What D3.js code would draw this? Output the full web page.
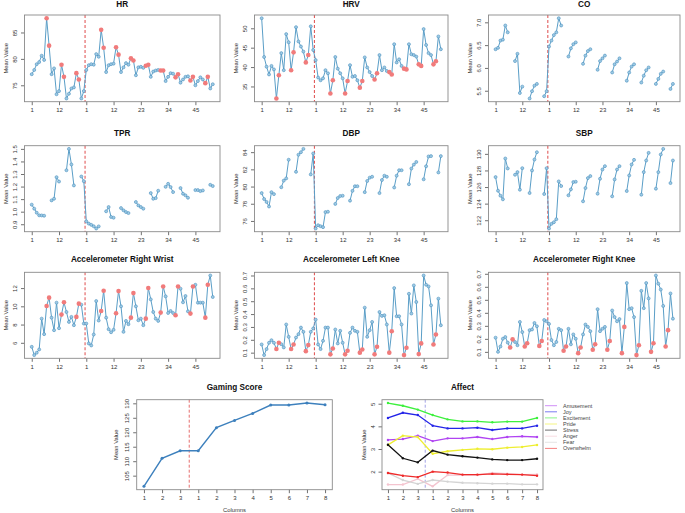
<!DOCTYPE html>
<html><head><meta charset="utf-8">
<script src="https://cdn.jsdelivr.net/npm/d3@7"></script>
<style>body{margin:0;background:#fff}svg{display:block;font-family:"Liberation Sans",Arial,Helvetica,sans-serif}</style>
</head><body><svg id="c" width="685" height="513"></svg>
<script>
// ---------- data ----------
const baseTickLabels = ["1", "12"];
const intTickLabels = ["1", "12", "23", "34", "45"];
const baseHighlight = [7, 8, 13, 14, 19, 20];
const intHighlight = [7, 8, 13, 14, 19, 20, 25, 26, 31, 32, 37, 38, 43, 44, 49, 50];

const hrBase = [77.1, 77.9, 79.0, 79.4, 80.6, 79.8, 87.7, 82.5, 77.1, 78.2, 73.3, 73.9, 78.9, 76.6, 72.5, 73.4, 74.4, 74.6, 77.3, 76.1, 72.5, 73.9];
const hrInt = [77.9, 78.8, 79.0, 78.9, 80.9, 80.4, 85.5, 82.1, 77.5, 78.8, 79.0, 79.1, 82.2, 80.8, 77.5, 78.4, 79.2, 78.9, 80.1, 79.7, 76.9, 78.4, 78.5, 78.3, 78.7, 78.9, 76.6, 77.6, 77.8, 77.9, 77.8, 77.8, 75.8, 76.6, 77.3, 77.2, 76.5, 77.1, 75.5, 76.1, 76.6, 76.7, 75.9, 76.6, 75.0, 75.8, 76.5, 76.1, 75.4, 76.6, 74.4, 75.2];

const hrvBase = [52.6, 42.6, 40.1, 38.1, 40.3, 39.4, 31.9, 37.9, 43.6, 39.2, 48.5, 46.4, 39.2, 43.8, 50.3, 46.6, 45.3, 44.0, 41.2, 43.1, 50.5, 44.4];
const hrvInt = [41.8, 37.3, 36.6, 37.1, 39.2, 38.4, 33.2, 36.6, 42.6, 39.6, 38.4, 37.1, 33.2, 36.4, 40.5, 37.5, 37.7, 36.6, 34.7, 36.4, 42.5, 39.9, 38.7, 37.7, 36.8, 38.4, 43.1, 39.2, 39.9, 39.0, 38.7, 38.1, 45.9, 41.2, 42.0, 40.3, 39.6, 39.4, 45.9, 43.3, 43.1, 42.7, 40.7, 40.3, 49.8, 45.7, 43.6, 43.1, 40.7, 41.5, 47.9, 44.6];

const coBase = [6.41, 6.44, 6.60, 6.62, 6.93, 6.78, null, null, 6.15, 6.31, 5.45, 5.59, null, null, 5.33, 5.49, 5.61, 5.65, null, null, 5.38, 5.49];
const coInt = [6.47, 6.60, 6.72, 6.78, 7.09, 6.93, null, null, 6.25, 6.43, 6.52, 6.56, null, null, 6.09, 6.27, 6.37, 6.41, null, null, 5.96, 6.15, 6.21, 6.27, null, null, 5.90, 6.08, 6.14, 6.21, null, null, 5.72, 5.90, 6.03, 6.08, null, null, 5.68, 5.83, 5.95, 6.01, null, null, 5.65, 5.76, 5.87, 5.92, null, null, 5.54, 5.65];

const tprBase = [1.056, 1.024, 0.992, 0.971, 0.970, 0.968, null, null, 1.090, 1.103, 1.275, 1.240, null, null, 1.330, 1.500, 1.376, 1.209, null, null, 1.280, 1.243];
const tprInt = [0.923, 0.905, 0.895, 0.884, 0.866, 0.883, null, null, 1.003, 1.037, 0.958, 0.952, null, null, 1.029, 1.011, 0.997, 0.989, null, null, 1.077, 1.050, 1.037, 1.024, null, null, 1.148, 1.103, 1.108, 1.167, null, null, 1.198, 1.222, 1.196, 1.156, null, null, 1.188, 1.143, 1.130, 1.111, null, null, 1.172, 1.172, 1.164, 1.169, null, null, 1.214, 1.204];

const dbpBase = [79.24, 78.55, 78.21, 77.68, 79.35, 79.12, null, null, 79.92, 80.69, 80.95, 83.12, null, null, 81.71, 83.70, 84.00, 84.38, null, null, 81.41, 83.85];
const dbpInt = [75.12, 75.50, 75.39, 75.28, 77.03, 77.07, null, null, 77.98, 78.67, 78.90, 78.93, null, null, 78.36, 79.50, 80.04, 80.04, null, null, 79.35, 80.65, 81.03, 81.14, null, null, 79.24, 80.76, 81.26, 81.14, null, null, 79.89, 81.26, 81.90, 81.90, null, null, 80.27, 82.10, 82.55, 82.86, null, null, 80.84, 82.36, 83.50, 83.54, null, null, 81.64, 83.54];

const sbpBase = [127.2, 125.56, 124.96, 124.52, 129.44, 128.24, null, null, 127.48, 127.8, 125.68, 128.28, null, null, 125.28, 128.0, 129.32, 130.2, null, null, 125.16, 128.28];
const sbpInt = [121.0, 121.56, 121.76, 122.12, 126.68, 126.12, null, null, 125.0, 125.72, 126.6, 126.64, null, null, 124.28, 125.88, 127.08, 127.32, null, null, 125.2, 127.0, 128.12, 128.52, null, null, 124.88, 126.92, 128.12, 128.52, null, null, 125.52, 127.4, 128.72, 129.28, null, null, 125.08, 127.8, 129.2, 130.12, null, null, 125.8, 127.8, 129.92, 130.6, null, null, 126.48, 129.2];

const rwBase = [5.56, 4.65, 4.91, 5.27, 8.65, 6.95, 10.04, 10.95, 8.76, 7.38, 10.4, 7.6, 9.09, 10.44, 9.38, 8.29, 8.84, 7.93, 8.84, 10.29, 10.18, 8.11];
const rwInt = [8.11, 5.93, 5.71, 6.91, 10.58, 8.44, 9.49, 11.71, 8.76, 7.49, 7.16, 7.42, 9.24, 11.67, 10.0, 7.2, 8.4, 8.04, 8.76, 11.45, 10.0, 8.47, 8.65, 7.93, 8.65, 12.0, 10.76, 9.38, 8.65, 8.4, 9.31, 12.18, 11.09, 9.27, 9.49, 9.27, 9.02, 12.18, 11.93, 10.44, 11.13, 9.45, 9.2, 12.18, 12.36, 10.4, 10.4, 10.4, 8.76, 12.36, 13.38, 11.02];

const lkBase = [0.164, 0.081, 0.128, 0.177, 0.197, 0.177, 0.128, 0.177, 0.166, 0.141, 0.319, 0.223, 0.128, 0.164, 0.218, 0.244, 0.295, 0.262, 0.112, 0.159, 0.262, 0.288];
const lkInt = [0.357, 0.164, 0.128, 0.192, 0.295, 0.295, 0.087, 0.133, 0.28, 0.172, 0.27, 0.177, 0.087, 0.115, 0.254, 0.295, 0.27, 0.262, 0.1, 0.125, 0.45, 0.223, 0.275, 0.339, 0.087, 0.146, 0.416, 0.386, 0.391, 0.319, 0.1, 0.267, 0.602, 0.383, 0.383, 0.319, 0.081, 0.138, 0.558, 0.404, 0.623, 0.494, 0.089, 0.172, 0.7, 0.628, 0.615, 0.468, 0.164, 0.241, 0.52, 0.313];

const rkBase = [0.209, 0.1, 0.141, 0.201, 0.214, 0.171, 0.133, 0.196, 0.176, 0.151, 0.33, 0.252, 0.141, 0.166, 0.267, 0.272, 0.322, 0.297, 0.146, 0.184, 0.345, 0.335];
const rkInt = [0.315, 0.191, 0.151, 0.176, 0.277, 0.267, 0.108, 0.141, 0.277, 0.158, 0.234, 0.201, 0.09, 0.133, 0.234, 0.31, 0.292, 0.259, 0.116, 0.158, 0.428, 0.259, 0.277, 0.292, 0.116, 0.184, 0.418, 0.367, 0.335, 0.352, 0.09, 0.292, 0.629, 0.428, 0.436, 0.367, 0.075, 0.151, 0.569, 0.436, 0.629, 0.511, 0.1, 0.166, 0.687, 0.624, 0.579, 0.453, 0.141, 0.267, 0.549, 0.355];

const sessionLabels = ["1", "2", "3", "1", "2", "3", "4", "5", "6", "7", "8"];
const gamingScore = [101.3, 111.0, 113.6, 113.6, 121.6, 124.1, 126.5, 129.4, 129.4, 130.1, 129.5];
const gamingTicks = [105, 110, 115, 120, 125, 130];

const affectNames = ["Amusement", "Joy", "Excitement", "Pride", "Stress", "Anger", "Fear", "Overwhelm"];
const affectColors = ["#b044f2", "#2424e8", "#3cf03c", "#eeee30", "#111111", "#f4c4cf", "#d4d4d4", "#ee2a2a"];
const amusement = [3.40, 3.44, 3.59, 3.35, 3.47, 3.47, 3.53, 3.44, 3.53, 3.56, 3.53];
const joy = [4.37, 4.60, 4.50, 4.03, 3.91, 3.91, 3.94, 3.84, 3.91, 3.91, 4.03];
const excitement = [5.03, 4.91, 4.74, 4.50, 4.31, 4.22, 4.22, 4.18, 4.21, 4.21, 4.37];
const pride = [3.18, 3.59, 3.53, 2.79, 2.90, 2.96, 3.01, 2.99, 3.06, 3.09, 3.18];
const stress = [3.19, 2.59, 2.41, 2.93, 2.75, 2.68, 2.62, 2.54, 2.51, 2.51, 2.57];
const anger = [1.43, 1.43, 1.68, 1.35, 1.85, 1.85, 1.85, 1.94, 1.91, 1.87, 1.88];
const fear = [1.94, 1.63, 1.46, 1.63, 1.56, 1.51, 1.49, 1.47, 1.47, 1.44, 1.44];
const overwhelm = [1.94, 1.82, 1.76, 2.00, 1.96, 1.87, 1.87, 1.90, 1.88, 1.87, 1.82];
const affectTicks = [2, 3, 4, 5];

// ---------- drawing ----------
const svg = d3.select("#c");
const FONT_TICK = 6, FONT_LAB = 5.8, FONT_TITLE = 8.2;
const BOX = "#8a8a8a", INK = "#333";
const rPad = (lo, hi) => { const d = (hi - lo) * 0.04; return [lo - d, hi + d]; };
const f1 = d3.format(".1f"), f0 = d3.format("d");

const panels = [
  {title: "HR", base: hrBase, int: hrInt, ticks: [75, 80, 85], fmt: f0, hl: true},
  {title: "HRV", base: hrvBase, int: hrvInt, ticks: [35, 40, 45, 50], fmt: f0, hl: true},
  {title: "CO", base: coBase, int: coInt, ticks: [5.5, 6.0, 6.5, 7.0], fmt: f1, hl: false},
  {title: "TPR", base: tprBase, int: tprInt, ticks: [0.9, 1.0, 1.1, 1.2, 1.3, 1.4, 1.5], fmt: f1, hl: false},
  {title: "DBP", base: dbpBase, int: dbpInt, ticks: [76, 78, 80, 82, 84], fmt: f0, hl: false},
  {title: "SBP", base: sbpBase, int: sbpInt, ticks: [122, 124, 126, 128, 130], fmt: f0, hl: false},
  {title: "Accelerometer Right Wrist", base: rwBase, int: rwInt, ticks: [6, 8, 10, 12], fmt: f0, hl: true},
  {title: "Accelerometer Left Knee", base: lkBase, int: lkInt, ticks: [0.1, 0.2, 0.3, 0.4, 0.5, 0.6, 0.7], fmt: f1, hl: true},
  {title: "Accelerometer Right Knee", base: rkBase, int: rkInt, ticks: [0.1, 0.2, 0.3, 0.4, 0.5, 0.6, 0.7], fmt: f1, hl: true}
];
const cols = [[24.5, 220], [254.5, 448], [488.5, 680]];
const rows = [[15, 101.7, 7], [145.7, 231.7, 135.7], [272.3, 358.3, 262.3]];

function yAxisDraw(g, y, ticks, fmt, l, off) {
  const ax = g.append("g").attr("transform", `translate(${l},0)`)
    .call(d3.axisLeft(y).tickValues(ticks).tickFormat(fmt).tickSize(3.5));
  ax.select(".domain").remove();
  ax.selectAll(".tick line").attr("stroke", INK).attr("stroke-width", 0.7);
  ax.selectAll(".tick text").attr("transform", "rotate(-90)")
    .attr("x", 0).attr("y", -off).attr("dy", 0).attr("text-anchor", "middle")
    .attr("font-size", FONT_TICK).attr("fill", INK);
  ax.attr("font-family", null);
}
function xAxisDraw(g, x, vals, labels, b, base) {
  const ax = g.append("g").attr("transform", `translate(0,${b})`)
    .call(d3.axisBottom(x).tickValues(vals).tickFormat((d, i) => labels[i]).tickSize(3.5));
  ax.select(".domain").remove();
  ax.selectAll(".tick line").attr("stroke", INK).attr("stroke-width", 0.7);
  ax.selectAll(".tick text").attr("y", base).attr("dy", 0)
    .attr("font-size", FONT_TICK).attr("fill", INK);
  ax.attr("font-family", null);
}
function frame(g, l, r, t, b) {
  g.append("rect").attr("x", l).attr("y", t).attr("width", r - l).attr("height", b - t)
    .attr("fill", "none").attr("stroke", BOX).attr("stroke-width", 0.9);
}
function titleDraw(g, txt, cx, by) {
  g.append("text").attr("x", cx).attr("y", by).attr("text-anchor", "middle")
    .attr("font-size", FONT_TITLE).attr("font-weight", "bold").attr("fill", "#111").text(txt);
}
function yLab(g, x, cy) {
  g.append("text").attr("transform", `translate(${x},${cy}) rotate(-90)`).attr("text-anchor", "middle")
    .attr("font-size", FONT_LAB).attr("fill", INK).text("Mean Value");
}

panels.forEach((p, k) => {
  const [l, r] = cols[k % 3];
  const [t, b, tb] = rows[Math.floor(k / 3)];
  const N1 = p.base.length, N2 = p.int.length, N = N1 + N2;
  const vals = p.base.concat(p.int);
  const pts = vals.map((v, i) => ({
    x: i + 1, v,
    hl: p.hl && (i < N1 ? baseHighlight.includes(i + 1) : intHighlight.includes(i - N1 + 1))
  }));
  const x = d3.scaleLinear().domain(rPad(1, N)).range([l, r]);
  const ext = d3.extent(vals.filter(v => v != null));
  const y = d3.scaleLinear().domain(rPad(ext[0], ext[1])).range([b, t]);
  const g = svg.append("g");

  titleDraw(g, p.title, (l + r) / 2, tb);
  const tickPos = [1, 12].concat([1, 12, 23, 34, 45].map(d => d + N1));
  xAxisDraw(g, x, tickPos, baseTickLabels.concat(intTickLabels), b, 10.5);
  yAxisDraw(g, y, p.ticks, p.fmt, l, 7.5);
  yLab(g, l - 17, (t + b) / 2);

  g.append("line").attr("x1", x(N1 + 0.5)).attr("x2", x(N1 + 0.5)).attr("y1", t).attr("y2", b)
    .attr("stroke", "#e25c5c").attr("stroke-width", 1.1).attr("stroke-dasharray", "3,2");

  const line = d3.line().defined(d => d.v != null).x(d => x(d.x)).y(d => y(d.v));
  g.append("path").attr("d", line(pts)).attr("fill", "none")
    .attr("stroke", "#5a9ec7").attr("stroke-width", 1);
  g.selectAll(".pt").data(pts.filter(d => d.v != null && !d.hl)).join("circle")
    .attr("cx", d => x(d.x)).attr("cy", d => y(d.v)).attr("r", 1.5)
    .attr("fill", "#9fcbe4").attr("stroke", "#4b91c0").attr("stroke-width", 0.6);
  g.selectAll(".hp").data(pts.filter(d => d.v != null && d.hl)).join("circle")
    .attr("cx", d => x(d.x)).attr("cy", d => y(d.v)).attr("r", 2.3)
    .attr("fill", "#f17b7b");
  frame(g, l, r, t, b);
});

// ---------- Gaming Score ----------
(function () {
  const l = 136.7, r = 332.3, t = 399.7, b = 489.7;
  const g = svg.append("g");
  const x = d3.scaleLinear().domain(rPad(1, gamingScore.length)).range([l, r]);
  const y = d3.scaleLinear().domain(rPad(d3.min(gamingScore), d3.max(gamingScore))).range([b, t]);
  titleDraw(g, "Gaming Score", (l + r) / 2, 390);
  xAxisDraw(g, x, d3.range(1, gamingScore.length + 1), sessionLabels, b, 10.5);
  yAxisDraw(g, y, gamingTicks, f0, l, 7.5);
  yLab(g, l - 19, (t + b) / 2);
  g.append("text").attr("x", (l + r) / 2).attr("y", 512).attr("text-anchor", "middle")
    .attr("font-size", FONT_LAB).attr("fill", INK).text("Columns");
  g.append("line").attr("x1", x(3.5)).attr("x2", x(3.5)).attr("y1", t).attr("y2", b)
    .attr("stroke", "#e04848").attr("stroke-width", 0.8).attr("stroke-dasharray", "3,2");
  const pts = gamingScore.map((v, i) => ({x: i + 1, v}));
  g.append("path").attr("d", d3.line().x(d => x(d.x)).y(d => y(d.v))(pts))
    .attr("fill", "none").attr("stroke", "#3d80bd").attr("stroke-width", 1.4);
  g.selectAll("circle").data(pts).join("circle").attr("cx", d => x(d.x)).attr("cy", d => y(d.v))
    .attr("r", 1.5).attr("fill", "#3d80bd");
  frame(g, l, r, t, b);
})();

// ---------- Affect ----------
(function () {
  const l = 382, r = 543, t = 399.7, b = 489.7;
  const series = [amusement, joy, excitement, pride, stress, anger, fear, overwhelm];
  const g = svg.append("g");
  const all = series.flat();
  const x = d3.scaleLinear().domain(rPad(1, sessionLabels.length)).range([l, r]);
  const y = d3.scaleLinear().domain(rPad(d3.min(all), d3.max(all))).range([b, t]);
  titleDraw(g, "Affect", (l + r) / 2, 390);
  xAxisDraw(g, x, d3.range(1, sessionLabels.length + 1), sessionLabels, b, 10.5);
  yAxisDraw(g, y, affectTicks, f0, l, 7.5);
  yLab(g, l - 16, (t + b) / 2);
  g.append("text").attr("x", (l + r) / 2).attr("y", 512).attr("text-anchor", "middle")
    .attr("font-size", FONT_LAB).attr("fill", INK).text("Columns");
  g.append("line").attr("x1", x(3.5)).attr("x2", x(3.5)).attr("y1", t).attr("y2", b)
    .attr("stroke", "#8d8de0").attr("stroke-width", 0.8).attr("stroke-dasharray", "3,2");
  const line = d3.line().x(d => x(d.x)).y(d => y(d.v));
  series.forEach((s, k) => {
    const pts = s.map((v, i) => ({x: i + 1, v}));
    g.append("path").attr("d", line(pts)).attr("fill", "none")
      .attr("stroke", affectColors[k]).attr("stroke-width", 1.3);
    g.selectAll(".p" + k).data(pts).join("circle").attr("cx", d => x(d.x)).attr("cy", d => y(d.v))
      .attr("r", 1.2).attr("fill", affectColors[k]);
  });
  frame(g, l, r, t, b);
  const lg = g.append("g");
  affectNames.forEach((nm, k) => {
    const yy = 405.7 + k * 6.1;
    lg.append("line").attr("x1", 545).attr("x2", 557).attr("y1", yy).attr("y2", yy)
      .attr("stroke", affectColors[k]).attr("stroke-width", 1).attr("stroke-opacity", 0.6);
    lg.append("text").attr("x", 563).attr("y", yy + 1.9).attr("font-size", 5.5)
      .attr("fill", "#444").text(nm);
  });
})();
</script>
</body></html>
